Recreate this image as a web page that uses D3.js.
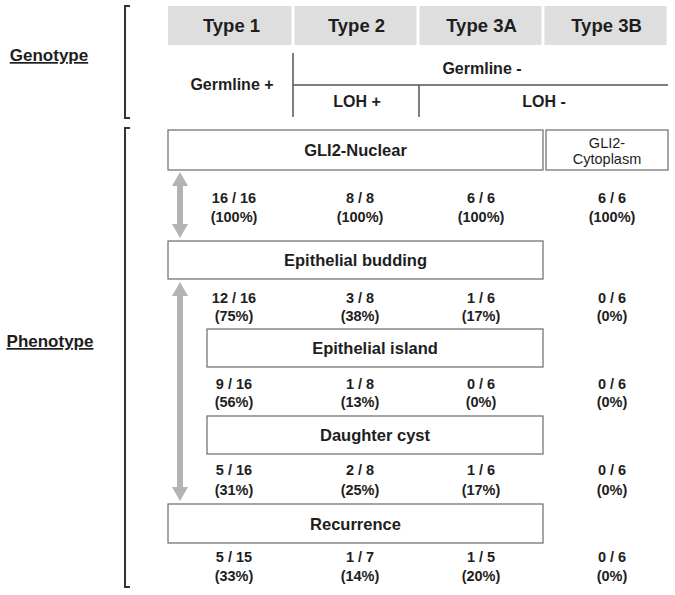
<!DOCTYPE html>
<html><head><meta charset="utf-8">
<script src="https://cdn.jsdelivr.net/npm/d3@7"></script>
<style>body{margin:0;background:#fff}svg{display:block}</style>
</head><body>
<script>
// ---- data ----
const types = ["Type 1", "Type 2", "Type 3A", "Type 3B"];
const phenotypes = ["GLI2-Nuclear", "Epithelial budding", "Epithelial island", "Daughter cyst", "Recurrence"];
const numerators = [[16, 8, 6, 6], [12, 3, 1, 0], [9, 1, 0, 0], [5, 2, 1, 0], [5, 1, 1, 0]];
const totals = [[16, 8, 6, 6], [16, 8, 6, 6], [16, 8, 6, 6], [16, 8, 6, 6], [15, 7, 5, 6]];
const percents = [[100, 100, 100, 100], [75, 38, 17, 0], [56, 13, 0, 0], [31, 25, 17, 0], [33, 14, 20, 0]];

// ---- layout ----
const W = 675, H = 595;
const svg = d3.select("body").append("svg").attr("width", W).attr("height", H);
const font = "'Liberation Sans', Arial, sans-serif";
const txt = "#1e1e1e";

const x = d3.scaleBand().domain(types).range([168, 668]).padding(0);
const numX = d3.scaleOrdinal().domain(types).range([234, 360, 481, 612]);
const boxTop = d3.scaleOrdinal().domain(phenotypes).range([130, 241, 329, 416, 504]);
const boxH = d3.scaleOrdinal().domain(phenotypes).range([40, 38, 38, 38, 39]);
const boxLeft = d3.scaleOrdinal().domain(phenotypes).range([168, 168, 207, 207, 168]);
const boxRight = 543;

// header band
svg.selectAll("rect.hdr").data(types).join("rect")
  .attr("x", d => x(d) + (d === types[0] ? 0 : 1.5))
  .attr("width", d => x.bandwidth() - (d === types[0] ? 1.5 : 3))
  .attr("y", 6).attr("height", 39).attr("fill", "#dedede");
svg.selectAll("text.hdr").data(types).join("text")
  .attr("x", d => x(d) + x.bandwidth() / 2 + 1).attr("y", 32)
  .attr("text-anchor", "middle").attr("font-family", font).attr("font-weight", "bold")
  .attr("font-size", 18.5).attr("fill", txt).text(d => d);

// brackets
function bracket(y0, y1) {
  svg.append("path").attr("d", `M130,${y0} L125,${y0} L125,${y1} L130,${y1}`)
    .attr("fill", "none").attr("stroke", "#333").attr("stroke-width", 2);
}
bracket(6, 118);
bracket(128, 587);

// side labels
function sideLabel(t, cx, cy) {
  svg.append("text").attr("x", cx).attr("y", cy).attr("text-anchor", "middle")
    .attr("font-family", font).attr("font-weight", "bold").attr("font-size", 17)
    .attr("fill", txt).attr("text-decoration", "underline").text(t);
}
sideLabel("Genotype", 49, 61);
sideLabel("Phenotype", 50, 347);

// genotype lines
const gl = "#555";
svg.append("line").attr("x1", 293).attr("x2", 293).attr("y1", 53).attr("y2", 117).attr("stroke", gl).attr("stroke-width", 1.5);
svg.append("line").attr("x1", 293).attr("x2", 668).attr("y1", 85).attr("y2", 85).attr("stroke", gl).attr("stroke-width", 1.5);
svg.append("line").attr("x1", 419).attr("x2", 419).attr("y1", 85).attr("y2", 117).attr("stroke", gl).attr("stroke-width", 1.5);

function gText(t, cx, cy) {
  svg.append("text").attr("x", cx).attr("y", cy).attr("text-anchor", "middle")
    .attr("font-family", font).attr("font-weight", "bold").attr("font-size", 16)
    .attr("fill", txt).text(t);
}
gText("Germline +", 232, 90);
gText("Germline -", 482, 74);
gText("LOH +", 357, 107);
gText("LOH -", 544, 107);

// phenotype boxes
const boxes = svg.selectAll("g.box").data(phenotypes).join("g");
boxes.append("rect")
  .attr("x", d => boxLeft(d)).attr("y", d => boxTop(d))
  .attr("width", d => boxRight - boxLeft(d)).attr("height", d => boxH(d))
  .attr("fill", "#fff").attr("stroke", "#6a6a6a").attr("stroke-width", 1.2);
boxes.append("text")
  .attr("x", d => (boxLeft(d) + boxRight) / 2).attr("y", d => boxTop(d) + boxH(d) / 2 + 6)
  .attr("text-anchor", "middle").attr("font-family", font).attr("font-weight", "bold")
  .attr("font-size", 16.5).attr("fill", txt).text(d => d);

// GLI2-Cytoplasm box
svg.append("rect").attr("x", 546).attr("y", 130).attr("width", 122).attr("height", 40)
  .attr("fill", "#fff").attr("stroke", "#6a6a6a").attr("stroke-width", 1.2);
const cyt = svg.append("text").attr("text-anchor", "middle").attr("font-family", font)
  .attr("font-size", 14.5).attr("fill", txt);
cyt.append("tspan").attr("x", 607).attr("y", 148).text("GLI2-");
cyt.append("tspan").attr("x", 607).attr("y", 164).text("Cytoplasm");

// counts
const rowOffsets = [[28, 47], [19, 37], [17, 35], [16, 36], [14, 33]];
phenotypes.forEach((p, i) => {
  const bottom = boxTop(p) + boxH(p);
  types.forEach((t, j) => {
    const g = svg.append("text").attr("text-anchor", "middle").attr("font-family", font)
      .attr("font-weight", "bold").attr("font-size", 14.5).attr("fill", txt);
    g.append("tspan").attr("x", numX(t)).attr("y", bottom + rowOffsets[i][0] + 5)
      .text(`${numerators[i][j]} / ${totals[i][j]}`);
    g.append("tspan").attr("x", numX(t)).attr("y", bottom + rowOffsets[i][1] + 5)
      .text(`(${percents[i][j]}%)`);
  });
});

// arrows
function dblArrow(cx, y0, y1) {
  const hw = 8, hh = 14, sw = 3;
  const d = `M${cx},${y0} L${cx + hw},${y0 + hh} L${cx + sw},${y0 + hh} L${cx + sw},${y1 - hh} L${cx + hw},${y1 - hh} L${cx},${y1} L${cx - hw},${y1 - hh} L${cx - sw},${y1 - hh} L${cx - sw},${y0 + hh} L${cx - hw},${y0 + hh} Z`;
  svg.append("path").attr("d", d).attr("fill", "#b3b3b3");
}
dblArrow(180, 172, 238);
dblArrow(180, 282, 501);
</script>
</body></html>
